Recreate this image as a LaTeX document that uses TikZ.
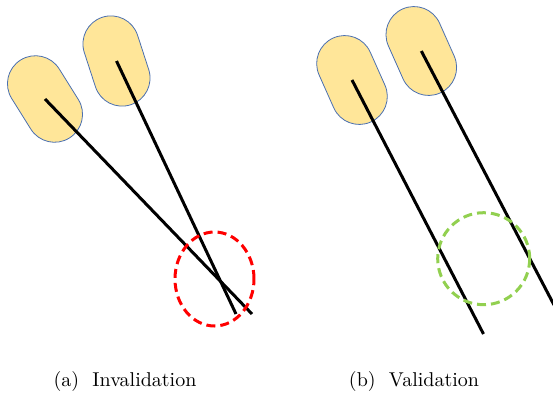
\documentclass[tikz,border=0pt]{standalone}
\usetikzlibrary{shapes.geometric}
\begin{document}
\begin{tikzpicture}[x=0.5pt,y=-0.5pt,
  capsule/.style={line width=0.4pt, fill=capfill,
    rectangle, rounded corners=14pt, inner sep=0pt,
    minimum width=46pt, minimum height=28pt},
  track/.style={line width=1.5pt, black},
  zone/.style={line width=1.5pt, dash pattern=on 4.5pt off 2.5pt},
  caption/.style={font=\normalsize, inner sep=0pt}]
\definecolor{capfill}{HTML}{FFE699}
\definecolor{capline}{HTML}{4A6FB0}
\definecolor{badzone}{HTML}{FF0000}
\definecolor{goodzone}{HTML}{92D050}
\useasboundingbox (0,0) rectangle (553,402);

% (a) two crossing tracks
\node[capsule, draw=capline, rotate=-58] (a1) at (45,99) {};
\node[capsule, draw=capline, rotate=-72] (a2) at (116.5,61) {};
\coordinate (ae1) at (252,314);
\coordinate (ae2) at (236,314);
\draw[track] (a1.center) -- (ae1);
\draw[track] (a2.center) -- (ae2);
\node[draw=badzone, zone, ellipse, minimum width=39.5pt, minimum height=47pt, inner sep=0pt] (az) at (214.5,279) {};

% (b) two parallel tracks
\node[capsule, draw=capline, rotate=-66] (b1) at (352,80) {};
\node[capsule, draw=capline, rotate=-66] (b2) at (421.3,51) {};
\coordinate (be1) at (483.5,334);
\coordinate (be2) at (554,305);
\draw[track] (b1.center) -- (be1);
\draw[track] (b2.center) -- (be2);
\node[draw=goodzone, zone, circle, minimum size=46pt, inner sep=0pt] (bz) at (483.7,258.7) {};

% captions
\node[caption] (capa) at (125,381) {(a)\ \ Invalidation};
\node[caption] (capb) at (414,381) {(b)\ \ Validation};
\end{tikzpicture}
\end{document}
